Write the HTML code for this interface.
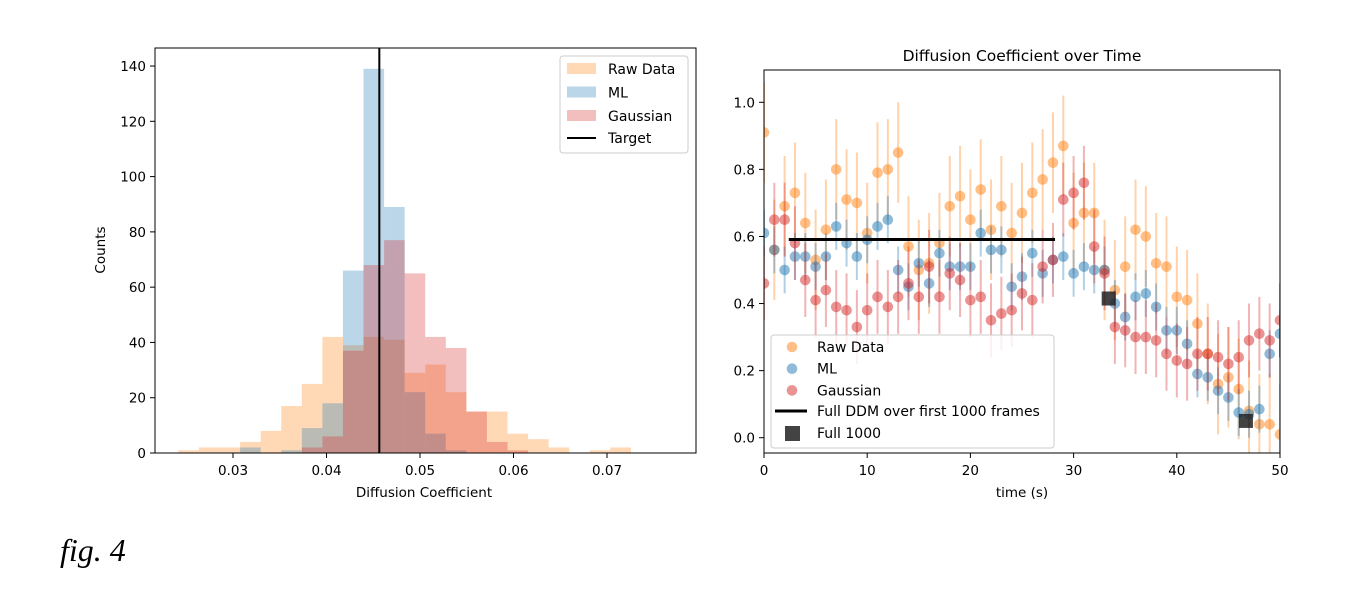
<!DOCTYPE html>
<html><head><meta charset="utf-8"><style>
html,body{margin:0;padding:0;background:#fff;}
svg{display:block;font-family:"DejaVu Sans","Liberation Sans",sans-serif;}
</style></head><body>
<svg id="fig" width="1372" height="602" viewBox="0 0 1372 602">
<rect width="1372" height="602" fill="#fff"/>
<g id="left"></g>
<g id="right"></g>
<text x="60" y="561" font-family="Liberation Serif, serif" font-style="italic" font-size="32" fill="#000">fig. 4</text>
</svg>
<script>
// ---- Histogram data ----
const binStart = 0.02416;
const binWidth = 0.0022;
const rawCounts = [1,2,2,4,8,17,25,42,39,42,41,29,32,22,15,15,7,5,2,0,1,2];
const mlCounts  = [0,0,0,2,0,1,9,18,66,139,89,22,7,1,0,0,0,0,0,0,0,0];
const gaussCounts=[0,0,0,0,0,0,2,6,37,68,77,65,42,38,15,4,1,0,0,0,0,0];
const targetValue = 0.04565;
const histXTicks = [0.03,0.04,0.05,0.06,0.07];
const histYTicks = [0,20,40,60,80,100,120,140];

// ---- Time series data ----
const times = [0,1,2,3,4,5,6,7,8,9,10,11,12,13,14,15,16,17,18,19,20,21,22,23,24,25,26,27,28,29,30,31,32,33,34,35,36,37,38,39,40,41,42,43,44,45,46,47,48,49,50];
const rawSeries = [0.91,0.56,0.69,0.73,0.64,0.53,0.62,0.80,0.71,0.70,0.61,0.79,0.80,0.85,0.57,0.50,0.52,0.58,0.69,0.72,0.65,0.74,0.62,0.69,0.61,0.67,0.73,0.77,0.82,0.87,0.64,0.67,0.67,0.50,0.44,0.51,0.62,0.60,0.52,0.51,0.42,0.41,0.34,0.25,0.16,0.18,0.145,0.08,0.04,0.04,0.01];
const mlSeries = [0.61,0.56,0.50,0.54,0.54,0.51,0.54,0.63,0.58,0.54,0.59,0.63,0.65,0.50,0.45,0.52,0.46,0.55,0.51,0.51,0.51,0.61,0.56,0.56,0.45,0.48,0.55,0.49,0.53,0.54,0.49,0.51,0.50,0.50,0.40,0.36,0.42,0.43,0.39,0.32,0.32,0.28,0.19,0.18,0.14,0.12,0.075,0.07,0.085,0.25,0.31];
const gaussSeries = [0.46,0.65,0.65,0.58,0.47,0.41,0.44,0.39,0.38,0.33,0.38,0.42,0.39,0.42,0.46,0.42,0.51,0.42,0.49,0.47,0.41,0.42,0.35,0.37,0.38,0.43,0.41,0.51,0.53,0.71,0.73,0.76,0.57,0.49,0.33,0.32,0.30,0.30,0.29,0.25,0.23,0.22,0.25,0.25,0.24,0.22,0.24,0.29,0.31,0.29,0.35];
const rawErr = 0.15, mlErr = 0.07, gaussErr = 0.11;
const fullDDM = {start:2.4, end:28.2, value:0.591};
const fullTimes = [33.4,46.7];
const fullValues = [0.415,0.05];
const tsXTicks = [0,10,20,30,40,50];
const tsYTicks = [0.0,0.2,0.4,0.6,0.8,1.0];

const NS="http://www.w3.org/2000/svg";
function mk(parent,tag,attrs,text){const e=document.createElementNS(NS,tag);for(const k in attrs)e.setAttribute(k,attrs[k]);if(text!==undefined)e.textContent=text;parent.appendChild(e);return e;}

// ---------- LEFT ----------
const L=document.getElementById('left');
const hx=v=>233+(v-0.03)*9350;
const hy=c=>453-c*2.764;
const hL=155,hR=696,hT=48,hB=453;
function drawHist(counts,color,name){
  counts.forEach((c,i)=>{ if(c<=0)return;
    const x0=hx(binStart+i*binWidth),x1=hx(binStart+(i+1)*binWidth);
    const r=mk(L,'rect',{x:x0,y:hy(c),width:x1-x0,height:hB-hy(c),fill:color,'fill-opacity':0.3});
    
    
  });
}
drawHist(rawCounts,'#ff7f0e','raw');
drawHist(mlCounts,'#1f77b4','ml');
drawHist(gaussCounts,'#d62728','gaussian');
let tl=mk(L,'line',{x1:hx(targetValue),x2:hx(targetValue),y1:hT,y2:hB,stroke:'#000','stroke-width':2});

let fr=mk(L,'rect',{x:hL,y:hT,width:hR-hL,height:hB-hT,fill:'none',stroke:'#000','stroke-width':1});

histXTicks.forEach(t=>{const x=hx(t);mk(L,'line',{x1:x,x2:x,y1:hB,y2:hB+5,stroke:'#000'});
  const tx=mk(L,'text',{x:x,y:hB+22,'text-anchor':'middle','font-size':13.5},t.toFixed(2));
  });
histYTicks.forEach(t=>{const y=hy(t);mk(L,'line',{x1:hL-5,x2:hL,y1:y,y2:y,stroke:'#000'});
  const tx=mk(L,'text',{x:hL-9,y:y+5,'text-anchor':'end','font-size':13.5},t);
  });
let xl=mk(L,'text',{x:424,y:497,'text-anchor':'middle','font-size':13.5},'Diffusion Coefficient');

let yl=mk(L,'text',{x:105,y:250,'text-anchor':'middle','font-size':13.5,transform:'rotate(-90 105 250)'},'Counts');

// legend
let lg=mk(L,'g',{});
mk(lg,'rect',{x:560,y:56,width:128,height:97,rx:3,fill:'#fff','fill-opacity':0.8,stroke:'#ccc'});
[['Raw Data','#ff7f0e'],['ML','#1f77b4'],['Gaussian','#d62728']].forEach((d,i)=>{
  const y=63+i*23.5;
  const s=mk(lg,'rect',{x:567,y:y,width:29,height:11,fill:d[1],'fill-opacity':0.3});
  
  const t=mk(lg,'text',{x:608,y:y+11,'font-size':14},d[0]);
  
});
mk(lg,'line',{x1:567,x2:596,y1:138,y2:138,stroke:'#000','stroke-width':2});
let tt=mk(lg,'text',{x:608,y:143,'font-size':14},'Target');


// ---------- RIGHT ----------
const R=document.getElementById('right');
const rL=764,rR=1280,rT=70,rB=453;
const tx_=t=>764+t*10.32;
const ty=v=>437.7-v*335.4;
const ct=mk(R,'clipPath',{id:'rclip'});mk(ct,'rect',{x:rL,y:rT,width:rR-rL,height:rB-rT});
const plot=mk(R,'g',{'clip-path':'url(#rclip)'});
function drawSeries(vals,err,color,name){
  vals.forEach((v,i)=>{const x=tx_(times[i]);
    const e=mk(plot,'line',{x1:x,x2:x,y1:ty(v-err),y2:ty(v+err),stroke:color,'stroke-opacity':0.35,'stroke-width':2});
    
  });
  vals.forEach((v,i)=>{const x=tx_(times[i]);
    const c=mk(plot,'circle',{cx:x,cy:ty(v),r:5.3,fill:color,'fill-opacity':0.5});
    
  });
}
drawSeries(rawSeries,rawErr,'#ff7f0e','raw');
drawSeries(mlSeries,mlErr,'#1f77b4','ml');
drawSeries(gaussSeries,gaussErr,'#d62728','gaussian');
let dl=mk(plot,'line',{x1:tx_(fullDDM.start),x2:tx_(fullDDM.end),y1:ty(fullDDM.value),y2:ty(fullDDM.value),stroke:'#000','stroke-width':3});

fullTimes.forEach((t,i)=>{const s=mk(plot,'rect',{x:tx_(t)-7,y:ty(fullValues[i])-7,width:14,height:14,fill:'#222','fill-opacity':0.85});
  });
let rf=mk(R,'rect',{x:rL,y:rT,width:rR-rL,height:rB-rT,fill:'none',stroke:'#000'});

tsXTicks.forEach(t=>{const x=tx_(t);mk(R,'line',{x1:x,x2:x,y1:rB,y2:rB+5,stroke:'#000'});
  const e=mk(R,'text',{x:x,y:rB+22,'text-anchor':'middle','font-size':13.5},t);
  });
tsYTicks.forEach(t=>{const y=ty(t);mk(R,'line',{x1:rL-5,x2:rL,y1:y,y2:y,stroke:'#000'});
  const e=mk(R,'text',{x:rL-9,y:y+5,'text-anchor':'end','font-size':13.5},t.toFixed(1));
  });
let rxl=mk(R,'text',{x:1022,y:497,'text-anchor':'middle','font-size':13.5},'time (s)');

let rt=mk(R,'text',{x:1022,y:61,'text-anchor':'middle','font-size':15.5},'Diffusion Coefficient over Time');

let rl=mk(R,'g',{});
mk(rl,'rect',{x:771,y:335,width:283,height:113,rx:3,fill:'#fff','fill-opacity':0.8,stroke:'#ccc'});
[['Raw Data','#ff7f0e'],['ML','#1f77b4'],['Gaussian','#d62728']].forEach((d,i)=>{
  const y=347+i*21.7;
  mk(rl,'circle',{cx:792,cy:y,r:5.3,fill:d[1],'fill-opacity':0.5});
  const t=mk(rl,'text',{x:817,y:y+5,'font-size':14},d[0]);
  
});
mk(rl,'line',{x1:775,x2:807,y1:411,y2:411,stroke:'#000','stroke-width':3});
let e1=mk(rl,'text',{x:817,y:416,'font-size':14},'Full DDM over first 1000 frames');

mk(rl,'rect',{x:785,y:426,width:15,height:15,fill:'#222','fill-opacity':0.85});
let e2=mk(rl,'text',{x:817,y:438,'font-size':14},'Full 1000');

</script>
</body></html>
